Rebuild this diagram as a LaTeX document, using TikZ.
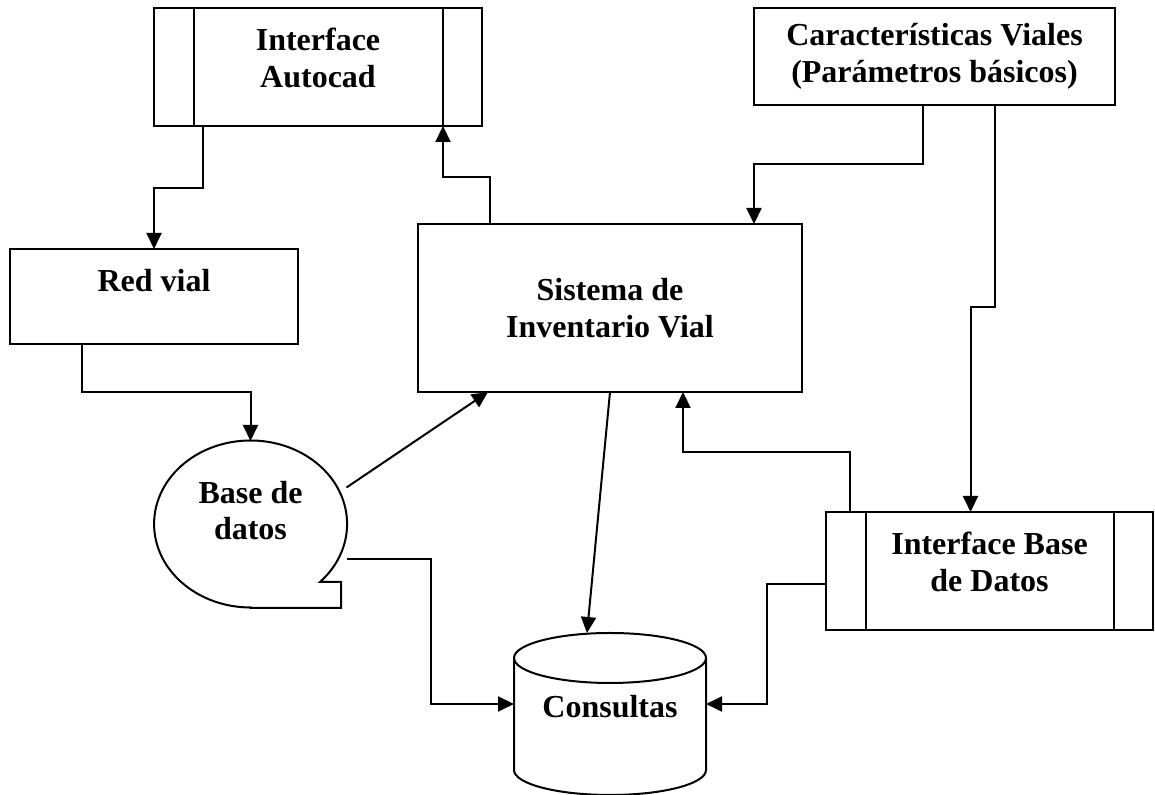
\documentclass[tikz,border=0pt]{standalone}
\usepackage{fontspec}
\setmainfont{Liberation Serif}
\usepackage{tikz}
\usetikzlibrary{calc}
\usetikzlibrary{arrows.meta}
\tikzset{>={Triangle[width=7.5pt,length=8pt]}}

\begin{document}
\begin{tikzpicture}[
    x = 0.5pt, y = 0.5pt,
    line width = 1pt,
    txt/.style = {font=\bfseries\fontsize{16}{18.4}\selectfont, align=center},
    box/.style = {draw, rectangle, outer sep = 0mm, txt},
    toptxt/.style = {txt, anchor=north, inner sep=0pt, yshift=-9.5pt},
    subproc/.style = {box, path picture={
        \draw ([xshift=20pt]path picture bounding box.north west)
          -- ([xshift=20pt]path picture bounding box.south west);
        \draw ([xshift=-19.5pt]path picture bounding box.north east)
          -- ([xshift=-19.5pt]path picture bounding box.south east);}},
    shapeonly/.style = {inner sep=0pt, outer sep=0pt}
  ]
  \useasboundingbox (0,0) rectangle (1155,795);

  \node[subproc, minimum width=164pt, minimum height=59pt,
    label={[toptxt, name=autocadtxt]north:{Interface\\Autocad}}] (autocad) at (318,728) {};
  \node[box, minimum width=180.5pt, minimum height=48.5pt] (caract) at (934.5,738.5)
    {Características Viales\\(Parámetros básicos)};
  \node[box, minimum width=144pt, minimum height=47.5pt,
    label={[toptxt, name=redtxt]north:{Red vial}}] (red) at (154,498.5) {};
  \node[box, minimum width=192pt, minimum height=84pt] (sistema) at (610,487)
    {Sistema de\\Inventario Vial};
  \node[subproc, minimum width=163.5pt, minimum height=59pt,
    label={[toptxt, name=ibdtxt]north:{Interface Base\\de Datos}}] (ibd) at (989.5,224) {};
  \node[shapeonly, minimum width=96.5pt, minimum height=83.5pt,
    label={[txt, name=bdtxt, yshift=7pt]center:{Base de\\datos}}] (bd) at (250.5,270.5) {};
  \node[shapeonly, minimum width=96pt, minimum height=81pt,
    label={[txt, name=constxt, yshift=3.5pt]center:{Consultas}}] (cons) at (610,81) {};

  \draw (bd.south) -- ++(90.5,0) -- ++(0,26) -- ++(-21,0)
    arc[start angle=-44, end angle=270, x radius=96.5, y radius=83.5] -- cycle;
  \draw ($(cons.north west)+(0,-25)$) -- ($(cons.south west)+(0,25)$)
    arc[start angle=180, end angle=360, x radius=96, y radius=25]
    -- ($(cons.north east)+(0,-25)$);
  \draw ($(cons.north)+(0,-25)$) ellipse [x radius=96, y radius=25];

  \draw[->] ($(autocad.south)+(-115,0)$) -- ++(0,-62) -| (red.north);
  \draw[->] ($(sistema.north)+(-120,0)$) -- ++(0,47) -| ($(autocad.south east)+(-39,0)$);
  \draw[->] ($(caract.south)+(-12,0)$) -- ++(0,-59) -| ($(sistema.north east)+(-48,0)$);
  \draw[->] ($(caract.south)+(60,0)$) -- ++(0,-202) -| ($(ibd.north)+(-19,0)$);
  \draw[->] ($(red.south)+(-72,0)$) -- ++(0,-48) -| (bd.north);
  \draw[->] ($(bd.center)+(96,37)$) -- ($(sistema.south west)+(70,0)$);
  \draw[->] (sistema.south) -- ($(cons.north)+(-23,0)$);
  \draw[->] ($(ibd.north west)+(24,0)$) -- ++(0,60) -| ($(sistema.south)+(73,0)$);
  \draw[->] ($(bd.center)+(96,-35)$) -- ++(84,0) |- ($(cons.west)+(0,10)$);
  \draw[->] ($(ibd.west)+(0,-13)$) -- ++(-59,0) |- ($(cons.east)+(0,10)$);
\end{tikzpicture}
\end{document}
